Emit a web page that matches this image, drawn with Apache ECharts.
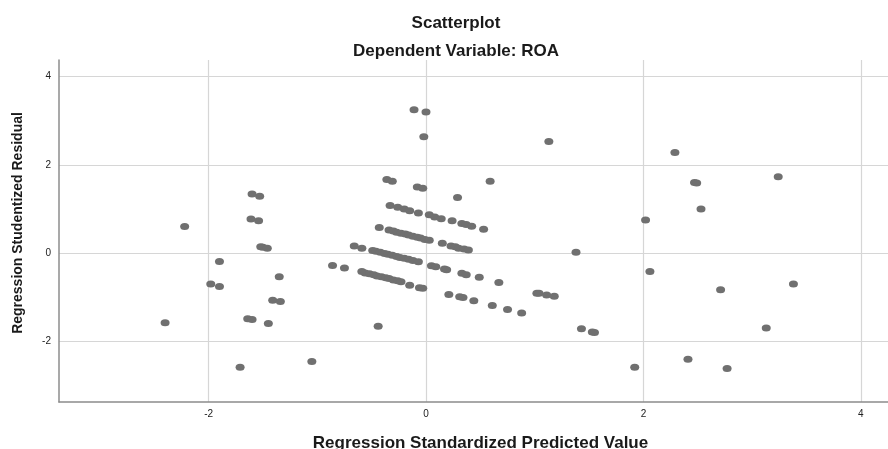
<!DOCTYPE html>
<html>
<head>
<meta charset="utf-8">
<script src="https://cdn.jsdelivr.net/npm/echarts@6/dist/echarts.min.js"></script>
<style>
html,body{margin:0;padding:0;background:#fff;}
#chart{width:888px;height:449px;}
</style>
</head>
<body>
<div id="chart"></div>
<script>
// Regression Standardized Predicted Value (x) and Studentized Residual (y)
var predicted = [
  -2.40, -2.22, -1.90, -1.98, -1.90, -1.60, -1.53, -1.61, -1.54, -1.52, -1.50, -1.46,
  -1.35, -1.41, -1.34, -1.64, -1.60, -1.45, -1.71, -1.05, -0.86, -0.75, -0.44,
  -0.11, 0.00, -0.02, 1.13, -0.36, -0.31, -0.08, -0.03, 0.59, 0.29,
  -0.33, -0.26, -0.20, -0.15, -0.07, 0.03, 0.08, 0.14, 0.24, 0.33, 0.37, 0.42, 0.53,
  -0.43, -0.34, -0.30, -0.27, -0.23, -0.19, -0.16, -0.12, -0.08, -0.05, -0.01, 0.03,
  0.15, 0.23, 0.27, 0.30, 0.35, 0.39,
  -0.66, -0.59, -0.49, -0.46, -0.42, -0.38, -0.35, -0.31, -0.27, -0.24, -0.20, -0.16, -0.12, -0.07,
  0.05, 0.09, 0.17, 0.19, 0.33, 0.37, 0.49, 0.67,
  -0.59, -0.56, -0.52, -0.48, -0.45, -0.41, -0.37, -0.34, -0.30, -0.26, -0.23, -0.15, -0.06, -0.03,
  0.21, 0.31, 0.34, 0.44, 0.61, 0.75, 0.88, 1.02, 1.04, 1.11, 1.18, 1.38, 1.43, 1.53, 1.55,
  2.29, 2.47, 2.49, 3.24, 2.53, 2.02, 2.06, 2.71, 3.38, 3.13, 1.92, 2.41, 2.77
];
var residual = [
  -1.58, 0.60, -0.19, -0.70, -0.76, 1.34, 1.29, 0.77, 0.73, 0.14, 0.13, 0.11,
  -0.54, -1.07, -1.10, -1.49, -1.51, -1.60, -2.59, -2.46, -0.28, -0.34, -1.66,
  3.25, 3.20, 2.64, 2.53, 1.67, 1.63, 1.50, 1.47, 1.63, 1.26,
  1.08, 1.04, 1.00, 0.96, 0.91, 0.87, 0.82, 0.78, 0.73, 0.67, 0.65, 0.61, 0.54,
  0.58, 0.52, 0.50, 0.47, 0.45, 0.43, 0.41, 0.38, 0.36, 0.34, 0.31, 0.29,
  0.22, 0.16, 0.14, 0.11, 0.09, 0.07,
  0.16, 0.11, 0.06, 0.04, 0.02, -0.01, -0.03, -0.05, -0.08, -0.10, -0.12, -0.14, -0.17, -0.20,
  -0.29, -0.31, -0.36, -0.38, -0.46, -0.49, -0.55, -0.67,
  -0.42, -0.45, -0.47, -0.49, -0.52, -0.54, -0.56, -0.58, -0.61, -0.63, -0.65, -0.73, -0.79, -0.80,
  -0.94, -0.99, -1.01, -1.08, -1.19, -1.28, -1.36, -0.91, -0.91, -0.95, -0.98, 0.02, -1.72, -1.79, -1.80,
  2.28, 1.60, 1.59, 1.73, 1.00, 0.75, -0.42, -0.83, -0.70, -1.70, -2.59, -2.41, -2.62
];
var xTicks = [-2, 0, 2, 4];
var yTicks = [-2, 0, 2, 4];
var titleText = 'Scatterplot';
var subtitleText = 'Dependent Variable: ROA';
var xName = 'Regression Standardized Predicted Value';
var yName = 'Regression Studentized Residual';

var points = predicted.map(function (v, i) { return [v, residual[i]]; });

var font = '"Liberation Sans", Arial, sans-serif';
var chart = echarts.init(document.getElementById('chart'), null, {renderer: 'canvas'});
chart.setOption({
  animation: false,
  backgroundColor: '#ffffff',
  title: [
    {text: titleText, left: 451, top: 10, textAlign: 'center',
     textStyle: {fontFamily: font, fontSize: 17, fontWeight: 'bold', color: '#1a1a1a'}},
    {text: subtitleText, left: 451, top: 38, textAlign: 'center',
     textStyle: {fontFamily: font, fontSize: 17, fontWeight: 'bold', color: '#1a1a1a'}}
  ],
  grid: {left: 59, top: 60, right: 0, bottom: 47, containLabel: false, outerBoundsMode: 'none'},
  xAxis: {
    type: 'value', min: -3.376, max: 4.25,
    name: xName, nameLocation: 'middle', nameGap: 33,
    nameTextStyle: {fontFamily: font, fontSize: 17, fontWeight: 'bold', color: '#1a1a1a', padding: [0, 0, 0, 14]},
    axisLine: {show: true, onZero: false, lineStyle: {color: '#8c8c8c', width: 1.5}},
    axisTick: {show: false, customValues: xTicks},
    axisLabel: {customValues: xTicks, fontFamily: font, fontSize: 10, color: '#222', margin: 7},
    splitLine: {show: true, lineStyle: {color: '#d6d6d6', width: 1.2}}
  },
  yAxis: {
    type: 'value', min: -3.379, max: 4.379,
    name: yName, nameLocation: 'middle', nameGap: 34, nameRotate: 90,
    nameTextStyle: {fontFamily: font, fontSize: 14, fontWeight: 'bold', color: '#1a1a1a', padding: [0, 0, 0, 16]},
    axisLine: {show: true, onZero: false, lineStyle: {color: '#8c8c8c', width: 1.5}},
    axisTick: {show: false, customValues: yTicks},
    axisLabel: {customValues: yTicks, fontFamily: font, fontSize: 10, color: '#222', margin: 8},
    splitLine: {show: true, lineStyle: {color: '#d6d6d6', width: 1.2}}
  },
  series: [{
    type: 'scatter',
    data: points,
    symbol: 'circle',
    symbolSize: [9, 7],
    itemStyle: {color: '#707070', opacity: 1}
  }]
});
</script>
</body>
</html>
